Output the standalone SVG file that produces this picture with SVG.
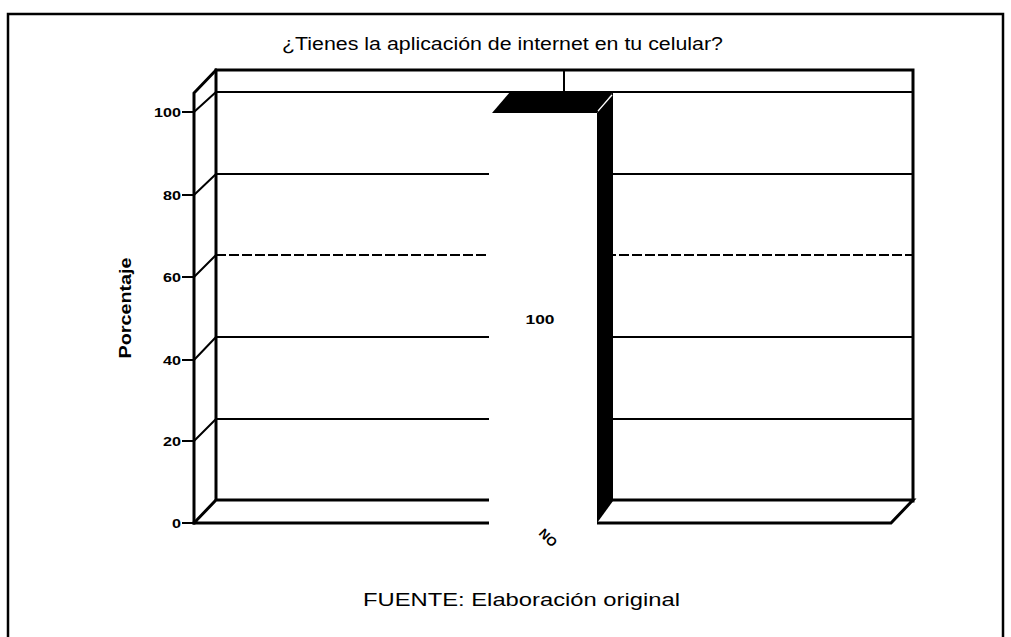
<svg xmlns="http://www.w3.org/2000/svg" width="1011" height="637" viewBox="0 0 1011 637">
<style>
  .frame{fill:none;stroke:#000;stroke-width:2.5}
  .edge{fill:none;stroke:#000;stroke-width:3;stroke-linecap:square}
  .grid{fill:none;stroke:#000;stroke-width:2}
  .tick{stroke:#000;stroke-width:1.8}
  .tl{font-family:"Liberation Sans",Arial,sans-serif;font-size:13px;font-weight:bold;fill:#000;text-anchor:end}
  .title{font-family:"Liberation Sans",Arial,sans-serif;font-size:17.5px;fill:#000}
  .axis{font-family:"Liberation Sans",Arial,sans-serif;font-size:16px;font-weight:bold;fill:#000;text-anchor:middle}
  .dl{font-family:"Liberation Sans",Arial,sans-serif;font-size:13px;font-weight:bold;fill:#000;text-anchor:middle}
</style>
<rect width="1011" height="637" fill="#fff"/>
<rect id="frame" class="frame" x="8" y="14" width="995" height="640"/>
<text id="title" class="title" x="282" y="50" textLength="441" lengthAdjust="spacingAndGlyphs">¿Tienes la aplicación de internet en tu celular?</text>
<g id="grid">
  <path class="grid" d="M216 92H913M216 174H913M216 337H913M216 419H913"/>
  <path class="grid" d="M216 255H913" stroke-dasharray="10 3" stroke-width="1.5"/>
  <path class="grid" d="M194 112L216 92M194 195L216 174M194 277L216 255M194 360L216 337M194 441L216 419"/>
  <path class="grid" d="M564 70V92"/>
</g>
<g id="walls">
  <path class="edge" d="M216 499V70H913V501"/>
  <path class="edge" d="M194 523V93L216 70"/>
  <path class="edge" d="M194 523L216 500H913L891 523H194"/>
</g>
<g id="yaxis">
  <path class="tick" d="M182 112H194M182 195H194M182 277H194M182 360H194M182 441H194M182 523H194"/>
  <text class="tl" x="181" y="117" textLength="27" lengthAdjust="spacingAndGlyphs">100</text>
  <text class="tl" x="181" y="200" textLength="18" lengthAdjust="spacingAndGlyphs">80</text>
  <text class="tl" x="181" y="282" textLength="18" lengthAdjust="spacingAndGlyphs">60</text>
  <text class="tl" x="181" y="365" textLength="18" lengthAdjust="spacingAndGlyphs">40</text>
  <text class="tl" x="181" y="446" textLength="18" lengthAdjust="spacingAndGlyphs">20</text>
  <text class="tl" x="181" y="528" textLength="9" lengthAdjust="spacingAndGlyphs">0</text>
  <text class="axis" transform="translate(131 308) rotate(-90)" textLength="101" lengthAdjust="spacingAndGlyphs">Porcentaje</text>
</g>
<g id="bar-no">
  <rect x="489" y="113" width="108" height="412" fill="#fff"/>
  <polygon points="492,113 597,113 613,92 510,92" fill="#000"/>
  <polygon points="597,113 613,92 613,501 597,523" fill="#000"/>
  <path d="M598 111L612 95" stroke="#fff" stroke-width="1.2"/>
  <text class="dl" x="540" y="324" textLength="29" lengthAdjust="spacingAndGlyphs">100</text>
</g>
<text id="xlabel" class="dl" font-size="14" transform="translate(545 541) rotate(45)">NO</text>
<text id="source" class="title" x="363" y="606" textLength="317" lengthAdjust="spacingAndGlyphs">FUENTE: Elaboración original</text>
</svg>
